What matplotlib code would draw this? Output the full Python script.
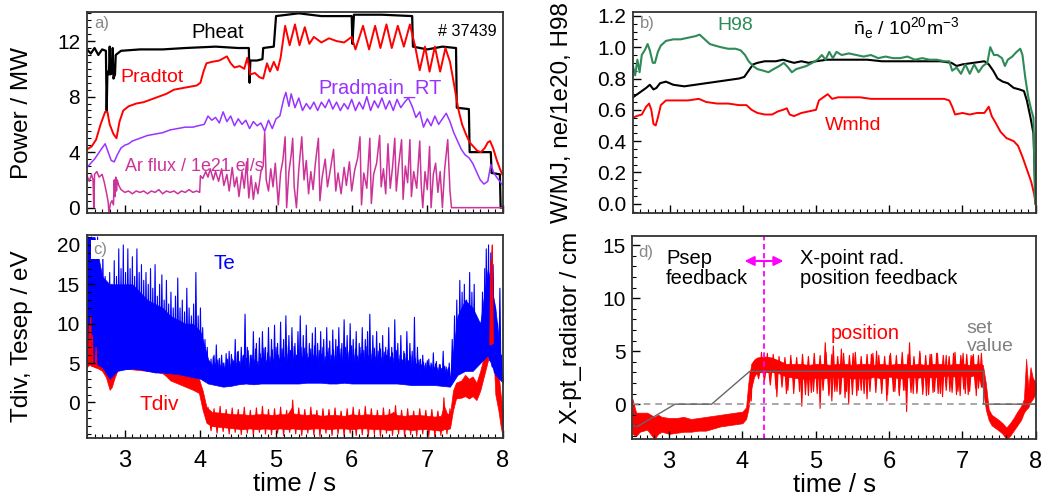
import numpy as np
import matplotlib.pyplot as plt
from matplotlib.ticker import MultipleLocator, FormatStrFormatter
from matplotlib.collections import PolyCollection

plt.rcParams['font.family'] = ['Liberation Sans', 'DejaVu Sans']
plt.rcParams['mathtext.fontset'] = 'custom'
plt.rcParams['mathtext.rm'] = 'Liberation Sans'

# ---------------- a) powers (MW) ----------------
pheat_t = [2.50, 2.55, 2.60, 2.65, 2.70, 2.75, 2.76, 2.77, 2.79, 2.80, 2.81, 2.83, 2.84, 2.85, 2.87,
           2.88, 2.95, 3.20, 3.50, 3.80, 4.20, 4.50, 4.64, 4.65, 4.66, 4.75, 4.82, 4.83, 4.97, 5.00,
           5.30, 5.60, 6.00, 6.01, 6.03, 6.40, 6.80, 6.81, 7.00, 7.20, 7.38, 7.39, 7.55, 7.56, 7.84,
           7.85, 7.96, 7.97, 8.00]
pheat = [11.4, 11.1, 11.5, 11.0, 11.4, 11.3, 7.0, 9.8, 9.6, 11.6, 9.6, 9.7, 11.5, 9.3, 9.6,
         11.0, 11.3, 11.4, 11.4, 11.5, 11.6, 11.5, 11.5, 9.0, 10.6, 10.6, 10.7, 11.5, 11.6, 13.8,
         14.0, 13.8, 13.8, 11.8, 13.9, 13.9, 13.8, 11.6, 11.4, 11.6, 11.5, 7.2, 7.1, 4.0, 4.0,
         2.5, 2.4, 0.0, 0.0]

pradtot_t = [2.50, 2.56, 2.62, 2.68, 2.74, 2.77, 2.80, 2.85, 2.89, 2.93, 2.98, 3.05, 3.15, 3.25, 3.35,
             3.45, 3.55, 3.65, 3.75, 3.85, 3.95, 4.00, 4.04, 4.08, 4.15, 4.25, 4.35, 4.40, 4.45, 4.52,
             4.58, 4.62, 4.66, 4.72, 4.78, 4.83, 4.88, 4.92, 4.97, 5.02, 5.06, 5.12, 5.18, 5.25, 5.31,
             5.38, 5.44, 5.50, 5.60, 5.70, 5.80, 5.90, 6.00, 6.05, 6.15, 6.23, 6.31, 6.38, 6.46, 6.53,
             6.61, 6.69, 6.77, 6.84, 6.90, 6.97, 7.03, 7.10, 7.17, 7.24, 7.30, 7.35, 7.41, 7.46, 7.51,
             7.56, 7.61, 7.66, 7.71, 7.76, 7.80, 7.83, 7.87, 7.92, 7.96, 8.00]
pradtot = [4.2, 4.4, 4.9, 6.0, 6.9, 6.9, 6.0, 5.3, 5.0, 6.2, 7.0, 7.3, 7.5, 7.6, 7.8,
           8.0, 8.2, 8.5, 8.6, 8.7, 8.8, 9.0, 9.8, 10.4, 10.5, 10.6, 10.9, 10.4, 10.1, 10.2,
           10.0, 10.8, 9.6, 9.7, 9.4, 9.3, 10.4, 9.8, 10.5, 9.9, 10.8, 13.1, 11.7, 13.2, 11.7,
           13.0, 11.8, 12.3, 11.9, 12.2, 12.0, 11.9, 12.3, 11.4, 13.1, 11.4, 13.1, 11.5, 13.2, 11.5,
           13.1, 11.6, 13.2, 11.6, 9.9, 11.6, 9.8, 11.6, 9.8, 11.5, 10.5, 9.0, 7.1, 6.0, 5.3,
           4.7, 4.4, 4.1, 4.0, 4.3, 4.7, 4.8, 4.3, 3.4, 2.8, 2.3]

pradmain_t = [2.50, 2.55, 2.60, 2.65, 2.70, 2.74, 2.78, 2.82, 2.86, 2.90, 2.95, 3.00, 3.05, 3.10, 3.20,
              3.30, 3.40, 3.50, 3.60, 3.70, 3.80, 3.90, 3.97, 4.05, 4.10, 4.15, 4.20, 4.25, 4.30, 4.35,
              4.40, 4.45, 4.50, 4.55, 4.60, 4.65, 4.70, 4.75, 4.80, 4.85, 4.90, 4.95, 5.00, 5.05, 5.10,
              5.13, 5.17, 5.20, 5.25, 5.30, 5.35, 5.40, 5.45, 5.50, 5.55, 5.60, 5.65, 5.70, 5.75, 5.80,
              5.85, 5.90, 5.95, 6.00, 6.05, 6.10, 6.15, 6.20, 6.25, 6.30, 6.35, 6.40, 6.45, 6.50, 6.55,
              6.60, 6.65, 6.70, 6.75, 6.80, 6.85, 6.90, 6.95, 7.00, 7.05, 7.10, 7.15, 7.20, 7.25, 7.30,
              7.35, 7.40, 7.45, 7.50, 7.55, 7.60, 7.65, 7.70, 7.75, 7.80, 7.84, 7.88, 7.93, 8.00]
pradmain = [2.9, 3.2, 3.5, 3.9, 4.3, 4.6, 4.0, 3.4, 3.3, 3.8, 4.3, 4.5, 4.6, 4.8, 5.0,
            5.2, 5.3, 5.4, 5.6, 5.7, 5.8, 5.8, 5.9, 6.0, 6.6, 6.3, 6.5, 6.1, 6.9, 6.2,
            6.6, 5.9, 6.4, 6.0, 6.3, 5.7, 6.2, 5.9, 6.1, 5.5, 6.3, 5.7, 6.4, 6.6, 7.8,
            8.3, 7.3, 8.2, 7.2, 7.9, 7.0, 7.5, 7.1, 7.6, 7.0, 7.6, 7.2, 7.8, 7.1, 7.6,
            7.0, 7.5, 7.1, 7.8, 7.0, 7.6, 7.1, 8.0, 7.0, 7.7, 7.2, 7.9, 7.1, 7.7, 7.0,
            7.8, 7.2, 7.6, 7.9, 7.3, 6.5, 6.9, 5.8, 6.4, 5.9, 6.6, 6.0, 6.4, 6.8, 6.2,
            5.4, 4.8, 4.2, 3.8, 3.6, 3.2, 2.6, 2.0, 1.7, 1.9, 3.1, 2.5, 2.1, 1.6]

arflux_t = [2.50, 2.53, 2.56, 2.58, 2.59, 2.60, 2.63, 2.66, 2.70, 2.73, 2.76, 2.78, 2.79, 2.81, 2.83,
            2.85, 2.86, 2.87, 2.88, 2.89, 2.90, 2.92, 2.95, 3.00, 3.05, 3.10, 3.15, 3.20, 3.25, 3.30,
            3.35, 3.40, 3.45, 3.50, 3.55, 3.60, 3.65, 3.70, 3.75, 3.80, 3.85, 3.90, 3.95, 3.99, 4.00,
            4.03, 4.07, 4.10, 4.13, 4.17, 4.20, 4.24, 4.28, 4.31, 4.35, 4.38, 4.42, 4.45, 4.48, 4.51,
            4.55, 4.58, 4.61, 4.64, 4.67, 4.70, 4.73, 4.76, 4.80, 4.83, 4.85, 4.87, 4.90, 4.93, 4.96,
            4.99, 5.03, 5.06, 5.09, 5.12, 5.14, 5.17, 5.20, 5.22, 5.24, 5.27, 5.30, 5.34, 5.37, 5.40,
            5.43, 5.46, 5.49, 5.52, 5.56, 5.58, 5.61, 5.65, 5.68, 5.72, 5.76, 5.79, 5.82, 5.86, 5.90,
            5.93, 5.97, 6.00, 6.04, 6.08, 6.11, 6.13, 6.16, 6.20, 6.24, 6.26, 6.29, 6.33, 6.37, 6.39,
            6.42, 6.45, 6.48, 6.51, 6.54, 6.57, 6.59, 6.62, 6.66, 6.68, 6.71, 6.74, 6.77, 6.79, 6.82,
            6.86, 6.90, 6.92, 6.94, 6.97, 7.00, 7.03, 7.05, 7.08, 7.11, 7.14, 7.17, 7.20, 7.23, 7.27,
            7.30, 7.32, 8.00]
arflux = [2.3, 1.9, 2.4, 2.0, 0.0, 2.4, 2.6, 2.2, 2.4, 1.8, 1.0, 0.4, -0.4, 0.3, 0.5,
          0.2, 2.0, 0.8, 2.2, 1.2, 2.0, 1.6, 1.3, 1.1, 1.2, 1.0, 1.2, 1.1, 1.2, 1.0,
          1.2, 1.1, 1.3, 1.0, 1.2, 1.1, 1.2, 1.0, 1.2, 1.1, 1.3, 1.1, 1.2, 1.1, 2.3,
          2.1, 2.6, 2.2, 2.8, 2.0, 2.6, 1.9, 2.8, 1.6, 2.4, 1.2, 2.9, 1.5, 2.2, 0.8,
          2.6, 1.4, 3.3, 0.7, 2.3, 0.6, 1.8, 1.0, 2.6, 3.0, 5.4, 2.0, 1.2, 2.8, 1.5,
          3.2, 0.2, 2.5, 3.4, 5.1, 0.0, 2.6, 3.8, 5.0, 1.5, 0.0, 2.7, 5.1, 2.0, 3.4,
          1.0, 2.6, 1.3, 3.2, 5.0, 0.5, 2.2, 3.5, 1.5, 2.8, 4.2, 1.2, 2.5, 1.0, 2.9,
          1.6, 3.3, 1.2, 2.7, 3.6, 5.1, 0.2, 2.5, 1.4, 5.0, 0.3, 2.4, 3.2, 5.2, 1.5,
          2.8, 1.0, 4.6, 1.4, 2.9, 5.0, 1.2, 3.0, 4.9, 0.6, 3.0, 1.8, 4.9, 0.8, 2.6,
          1.4, 4.8, 1.6, 0.0, 2.6, 1.3, 4.4, 0.0, 2.4, 3.2, 1.1, 2.6, 0.0, 2.8, 4.9,
          1.2, 0.0, 0.0]

# ---------------- b) Wmhd, density, H98 ----------------
h98_t = [2.50, 2.53, 2.56, 2.59, 2.62, 2.66, 2.70, 2.73, 2.77, 2.80, 2.84, 2.88, 2.95, 3.05, 3.15,
         3.25, 3.35, 3.41, 3.48, 3.55, 3.62, 3.70, 3.80, 3.90, 3.97, 4.03, 4.08, 4.14, 4.20, 4.28,
         4.35, 4.42, 4.50, 4.56, 4.62, 4.67, 4.73, 4.80, 4.87, 4.95, 5.02, 5.08, 5.13, 5.18, 5.23,
         5.28, 5.35, 5.45, 5.55, 5.65, 5.75, 5.85, 5.95, 6.05, 6.15, 6.25, 6.35, 6.45, 6.55, 6.65,
         6.75, 6.82, 6.86, 6.92, 6.98, 7.04, 7.10, 7.16, 7.22, 7.28, 7.34, 7.38, 7.43, 7.48, 7.54,
         7.58, 7.62, 7.68, 7.74, 7.79, 7.82, 7.86, 7.90, 7.94, 7.97, 7.99, 8.00]
h98 = [0.88, 0.82, 0.92, 0.84, 0.95, 0.98, 1.02, 0.98, 0.90, 0.90, 0.97, 1.01, 1.04, 1.05, 1.05,
       1.06, 1.07, 1.08, 1.05, 1.02, 1.01, 1.00, 0.99, 0.99, 0.98, 0.95, 0.91, 0.88, 0.86, 0.85,
       0.84, 0.86, 0.88, 0.90, 0.87, 0.84, 0.86, 0.87, 0.88, 0.90, 0.92, 0.95, 0.92, 0.97, 0.93,
       0.97, 0.95, 0.96, 0.95, 0.94, 0.95, 0.93, 0.94, 0.93, 0.93, 0.94, 0.92, 0.93, 0.92, 0.92,
       0.91, 0.91, 0.85, 0.87, 0.83, 0.89, 0.83, 0.89, 0.84, 0.88, 0.90, 1.00, 0.95, 0.95, 0.93,
       0.88, 0.92, 0.94, 0.97, 0.99, 0.95, 0.80, 0.68, 0.60, 0.55, 0.05, 0.0]

ne_t = [2.50, 2.56, 2.62, 2.68, 2.73, 2.78, 2.82, 2.87, 2.95, 3.05, 3.20, 3.35, 3.50, 3.65, 3.80,
        3.95, 4.02, 4.08, 4.14, 4.20, 4.30, 4.45, 4.55, 4.62, 4.70, 4.80, 4.90, 5.00, 5.15, 5.30,
        5.50, 5.70, 5.90, 6.10, 6.30, 6.50, 6.70, 6.85, 6.92, 7.00, 7.15, 7.30, 7.36, 7.42, 7.48,
        7.55, 7.62, 7.70, 7.78, 7.84, 7.88, 7.93, 7.97, 8.00]
ne = [0.68, 0.70, 0.72, 0.74, 0.76, 0.73, 0.74, 0.77, 0.78, 0.76, 0.75, 0.76, 0.77, 0.78, 0.79,
      0.80, 0.81, 0.85, 0.89, 0.90, 0.91, 0.91, 0.92, 0.91, 0.90, 0.91, 0.90, 0.91, 0.92, 0.92,
      0.92, 0.92, 0.91, 0.91, 0.91, 0.91, 0.91, 0.90, 0.88, 0.89, 0.90, 0.91, 0.89, 0.85, 0.80,
      0.78, 0.77, 0.74, 0.73, 0.72, 0.66, 0.55, 0.45, 0.0]

wmhd_t = [2.50, 2.55, 2.62, 2.68, 2.72, 2.75, 2.78, 2.81, 2.84, 2.88, 2.95, 3.10, 3.25, 3.40, 3.50,
          3.65, 3.80, 3.95, 4.05, 4.12, 4.20, 4.30, 4.40, 4.48, 4.55, 4.60, 4.64, 4.70, 4.80, 4.90,
          5.00, 5.04, 5.10, 5.16, 5.22, 5.30, 5.45, 5.60, 5.75, 5.90, 6.05, 6.20, 6.40, 6.60, 6.75,
          6.82, 6.86, 6.90, 7.00, 7.10, 7.20, 7.30, 7.36, 7.40, 7.45, 7.52, 7.60, 7.70, 7.76, 7.82,
          7.88, 7.94, 7.98, 8.00]
wmhd = [0.55, 0.56, 0.57, 0.62, 0.64, 0.60, 0.51, 0.50, 0.55, 0.63, 0.66, 0.66, 0.66, 0.67, 0.65,
        0.64, 0.64, 0.63, 0.63, 0.60, 0.58, 0.57, 0.57, 0.59, 0.60, 0.61, 0.57, 0.56, 0.58, 0.59,
        0.60, 0.66, 0.68, 0.70, 0.67, 0.68, 0.68, 0.68, 0.67, 0.67, 0.67, 0.67, 0.67, 0.67, 0.67,
        0.66, 0.62, 0.57, 0.58, 0.57, 0.58, 0.58, 0.62, 0.56, 0.52, 0.46, 0.42, 0.40, 0.37, 0.30,
        0.22, 0.14, 0.06, 0.0]

# ---------------- c) temperatures (eV) ----------------
te_t = [2.5, 2.6, 2.7, 2.8, 2.9, 3.0, 3.1, 3.2, 3.3, 3.4, 3.5, 3.6, 3.7, 3.8, 3.9, 4.0,
        4.1, 4.2, 4.3, 4.4, 4.5, 4.6, 4.7, 4.8, 4.9, 5.0, 5.1, 5.2, 5.3, 5.4, 5.5, 5.6,
        5.7, 5.8, 5.9, 6.0, 6.1, 6.2, 6.3, 6.4, 6.5, 6.6, 6.7, 6.8, 6.9, 7.0, 7.1, 7.2,
        7.3, 7.4, 7.5, 7.6, 7.7, 7.8, 7.9, 8.0]
te_lo = [5.0, 5.0, 4.5, 3.0, 4.0, 4.2, 4.3, 4.2, 4.0, 3.8, 3.8, 3.7, 3.6, 3.4, 3.2, 3.0,
         2.4, 2.2, 2.0, 2.1, 2.3, 2.4, 2.3, 2.4, 2.4, 2.4, 2.4, 2.4, 2.4, 2.5, 2.5, 2.5,
         2.4, 2.4, 2.5, 2.4, 2.4, 2.4, 2.4, 2.4, 2.4, 2.4, 2.3, 2.2, 2.2, 2.2, 2.2, 2.1,
         2.0, 3.5, 4.0, 4.0, 5.0, 6.0, 3.5, 2.5]
te_top = [21, 21, 16, 15, 15, 15, 15, 14, 13, 12.5, 12, 11, 10.5, 10, 10, 9,
          5.5, 4.0, 3.7, 3.8, 3.9, 4.0, 3.9, 4.1, 4.2, 4.2, 4.3, 4.2, 4.4, 4.2, 4.3, 4.4,
          4.2, 4.3, 4.4, 4.2, 4.3, 4.1, 4.0, 4.0, 3.9, 3.8, 3.7, 3.6, 3.5, 3.6, 3.4, 3.3,
          3.2, 11, 13, 12, 10, 17, 12, 3.0]
te_spike_t = [2.52, 2.56, 2.60, 2.64, 2.68, 2.71, 2.74, 2.77, 2.80, 2.83, 2.86, 2.89, 2.92, 2.95, 2.98,
              3.01, 3.04, 3.07, 3.10, 3.13, 3.16, 3.19, 3.22, 3.25, 3.28, 3.31, 3.34, 3.37, 3.40, 3.43,
              3.46, 3.49, 3.52, 3.55, 3.58, 3.61, 3.64, 3.67, 3.70, 3.73, 3.76, 3.79, 3.82, 3.85, 3.88,
              3.91, 3.94, 3.97, 4.00, 4.03, 4.06, 4.09,
              4.14, 4.18, 4.21, 4.25, 4.30, 4.34, 4.38, 4.42, 4.46, 4.50, 4.54, 4.57, 4.59, 4.62, 4.66,
              4.70, 4.74, 4.78, 4.82, 4.86, 4.90, 4.94, 4.98, 5.02, 5.06, 5.10, 5.13, 5.17, 5.21, 5.25,
              5.29, 5.32, 5.36, 5.40, 5.44, 5.48, 5.52, 5.55, 5.59, 5.63, 5.67, 5.71, 5.75, 5.79, 5.83,
              5.87, 5.90, 5.94, 5.98, 6.02, 6.06, 6.10, 6.14, 6.18, 6.21, 6.24, 6.28, 6.33, 6.37, 6.41,
              6.45, 6.49, 6.53, 6.57, 6.61, 6.65, 6.69, 6.73, 6.77, 6.80, 6.83, 6.87, 6.91, 6.94, 6.98,
              7.02, 7.06, 7.08, 7.12, 7.16, 7.21, 7.25, 7.29,
              7.33, 7.36, 7.39, 7.43, 7.46, 7.49, 7.52, 7.56, 7.59, 7.62, 7.65, 7.68, 7.70, 7.73, 7.76,
              7.78, 7.81, 7.84, 7.87, 7.90, 7.93, 7.96, 7.98]
te_spike = [21, 21, 20.5, 21, 17, 19, 16, 14, 16.5, 15, 18, 16, 19.5, 17, 20,
            16.5, 19.5, 17, 18.5, 16, 19.5, 16.5, 17.5, 15.5, 16.5, 15, 17, 14.5, 17.5, 13.5,
            15, 16.2, 13, 15.5, 12.5, 14, 12, 13.5, 15.8, 12, 13, 11.5, 14.5, 12, 11,
            12.5, 16.5, 11, 12, 9.5, 8, 7,
            5.5, 6.0, 7.3, 5.6, 5.0, 6.2, 6.5, 5.5, 8.0, 6.5, 7.0, 6.0, 11.2, 7.0, 6.0,
            9.0, 7.5, 8.2, 9.0, 7.0, 9.5, 8.0, 9.8, 7.5, 10.2, 8.0, 11.0, 8.5, 9.5, 7.5,
            9.0, 11.0, 8.5, 9.8, 7.5, 8.8, 9.5, 7.5, 9.0, 8.0, 9.5, 7.8, 9.2, 8.0, 9.5,
            7.5, 10.5, 8.5, 10.0, 8.0, 9.0, 7.5, 9.5, 8.0, 9.0, 11.2, 8.5, 9.0, 7.5, 8.5,
            7.0, 9.5, 7.0, 10.5, 7.5, 8.5, 6.5, 9.0, 7.5, 6.5, 10.8, 7.0, 5.5, 6.0, 5.0,
            5.5, 4.8, 6.3, 5.2, 4.8, 6.5, 4.5, 5.0,
            8.0, 11.0, 13.0, 15.5, 14.0, 15.0, 13.0, 16.5, 14.0, 15.0, 11.0, 9.0, 10.0, 14.0, 17.0,
            19.5, 20.0, 19.0, 17.5, 12.0, 10.0, 14.5, 6.0]
# short spikes that make the ragged top of the Te band
te_fuzz_t = [4.12, 4.15, 4.17, 4.20, 4.23, 4.26, 4.28, 4.31, 4.33, 4.36,
             4.39, 4.41, 4.44, 4.47, 4.49, 4.52, 4.55, 4.58, 4.61, 4.63,
             4.66, 4.68, 4.71, 4.73, 4.76, 4.79, 4.81, 4.84, 4.87, 4.89,
             4.92, 4.95, 4.97, 5.00, 5.03, 5.05, 5.08, 5.11, 5.14, 5.16,
             5.19, 5.22, 5.24, 5.27, 5.30, 5.33, 5.35, 5.38, 5.41, 5.43,
             5.46, 5.49, 5.51, 5.54, 5.57, 5.60, 5.62, 5.65, 5.68, 5.70,
             5.73, 5.76, 5.78, 5.81, 5.84, 5.86, 5.89, 5.92, 5.95, 5.97,
             6.00, 6.03, 6.05, 6.08, 6.11, 6.13, 6.16, 6.19, 6.22, 6.25,
             6.27, 6.30, 6.32, 6.35, 6.38, 6.40, 6.43, 6.46, 6.48, 6.51,
             6.54, 6.56, 6.59, 6.62, 6.64, 6.67, 6.70, 6.72, 6.75, 6.78,
             6.81, 6.84, 6.86, 6.89, 6.92, 6.95, 6.97, 7.00, 7.03, 7.05,
             7.09, 7.11, 7.14, 7.17, 7.19, 7.23, 7.26, 7.28]
te_fuzz = [5.2, 4.6, 5.8, 4.9, 5.4, 4.7, 6.0, 5.0, 4.6, 5.5,
           4.8, 6.1, 5.3, 5.0, 6.4, 5.2, 5.9, 4.9, 5.6, 6.6,
           5.1, 6.0, 5.4, 6.8, 5.2, 6.2, 5.6, 6.9, 5.3, 6.3,
           5.8, 6.7, 5.5, 7.0, 6.0, 5.6, 6.8, 5.7, 7.2, 6.1,
           6.6, 5.7, 7.1, 6.0, 6.5, 7.0, 5.8, 6.9, 6.2, 5.7,
           6.8, 6.0, 7.2, 5.9, 6.6, 6.1, 7.0, 5.8, 6.4, 6.9,
           6.0, 6.7, 5.9, 7.1, 6.2, 6.8, 5.9, 7.0, 6.3, 6.6,
           7.2, 6.0, 6.8, 5.9, 7.0, 6.2, 6.6, 7.1, 5.9, 6.7,
           6.1, 6.9, 5.8, 6.5, 6.8, 5.7, 6.4, 6.0, 6.7, 5.8,
           6.3, 5.6, 6.6, 5.5, 6.0, 5.4, 6.2, 5.6, 5.3, 5.9,
           5.2, 5.6, 4.9, 5.4, 4.8, 5.1, 4.7, 5.3, 4.6, 5.0,
           4.5, 4.9, 4.4, 4.8, 4.3, 4.6, 4.2, 4.4]

tdiv_t = [2.50, 2.53, 2.55, 2.57, 2.60, 2.65, 2.70, 2.75, 2.80, 2.83, 2.86, 2.90, 2.92, 2.95, 3.00,
          3.10, 3.20, 3.30, 3.40, 3.50, 3.55, 3.60, 3.70, 3.80, 3.90, 3.98, 4.03, 4.08, 4.15, 4.25,
          4.35, 4.45, 4.55, 4.65, 4.75, 4.85, 4.95, 5.05, 5.15, 5.21, 5.23, 5.30, 5.40, 5.50, 5.60,
          5.70, 5.80, 5.90, 6.00, 6.10, 6.20, 6.30, 6.40, 6.50, 6.55, 6.60, 6.70, 6.80, 6.90, 7.00,
          7.10, 7.18, 7.22, 7.26, 7.30, 7.34, 7.38, 7.45, 7.50, 7.55, 7.60, 7.65, 7.70, 7.74, 7.78,
          7.82, 7.85, 7.87, 7.90, 7.94, 7.97, 8.00]
tdiv_lo = [4.5, 4.8, 4.8, 4.6, 4.5, 4.3, 4.0, 3.2, 1.6, 2.0, 3.0, 4.0, 4.2, 4.2, 4.3,
           4.2, 4.1, 4.0, 3.9, 3.7, 3.3, 2.8, 2.4, 2.0, 1.6, 1.2, -1.0, -2.6, -3.0, -3.1,
           -3.2, -3.3, -3.4, -3.3, -3.4, -3.3, -3.4, -3.3, -3.4, -3.3, -3.3, -3.4, -3.4, -3.3, -3.3,
           -3.4, -3.3, -3.3, -3.4, -3.3, -3.3, -3.4, -3.4, -3.5, -3.4, -3.4, -3.4, -3.5, -3.4, -3.4,
           -3.5, -3.6, -3.4, -3.4, -3.3, -1.0, 0.5, 0.6, 0.8, 0.5, 0.8, 0.3, 1.5, 3.0, 4.5,
           6.0, 8.0, 7.0, 1.0, -1.0, -3.0, -4.5]
tdiv_hi = [9.0, 10.0, 11.0, 8.5, 7.0, 5.8, 5.3, 4.8, 4.0, 3.8, 4.8, 5.5, 6.5, 5.2, 5.0,
           4.9, 4.8, 4.7, 4.6, 4.4, 4.0, 3.8, 3.6, 3.4, 3.2, 3.0, 1.5, -0.6, -1.2, -1.3,
           -1.4, -1.5, -1.5, -1.6, -1.5, -1.5, -1.6, -1.5, -1.5, -0.6, -1.4, -1.5, -1.6, -1.5, -1.7,
           -1.6, -1.6, -1.7, -1.5, -1.6, -1.5, -1.6, -1.6, -1.5, -1.2, -1.6, -1.7, -1.6, -1.6, -1.7,
           -1.8, -1.7, -0.4, -1.4, -1.5, 1.5, 2.5, 2.8, 3.5, 3.0, 3.3, 2.5, 4.0, 5.5, 6.5,
           10.0, 20.0, 14.0, 5.0, 4.0, 1.0, -1.0]
# short up / down spikes giving the ragged edges of the detached Tdiv band
tdiv_fuzz_t = [4.10, 4.14, 4.18, 4.22, 4.26, 4.30, 4.34, 4.38, 4.42, 4.46,
               4.50, 4.54, 4.58, 4.62, 4.66, 4.70, 4.74, 4.78, 4.82, 4.86,
               4.90, 4.94, 4.98, 5.02, 5.06, 5.10, 5.14, 5.18, 5.22, 5.26,
               5.30, 5.34, 5.38, 5.42, 5.46, 5.50, 5.54, 5.58, 5.62, 5.66,
               5.70, 5.74, 5.78, 5.82, 5.86, 5.90, 5.94, 5.98, 6.02, 6.06,
               6.10, 6.14, 6.18, 6.22, 6.26, 6.30, 6.34, 6.38, 6.42, 6.46,
               6.50, 6.54, 6.58, 6.62, 6.66, 6.70, 6.74, 6.78, 6.82, 6.86,
               6.90, 6.94, 6.98, 7.02, 7.06, 7.10, 7.14, 7.18, 7.22, 7.26,
               7.30]
tdiv_fuzz = [-0.6, -3.6, -0.8, -3.9, -0.5, -3.7, -0.9, -4.0, -0.7, -3.8,
             -0.9, -4.1, -0.6, -3.9, -1.0, -4.2, -0.7, -3.8, -0.5, -4.0,
             -0.9, -4.1, -0.8, -3.9, -0.6, -4.2, -1.0, -3.8, 0.3, -4.0,
             -0.7, -4.2, -0.9, -3.9, -0.6, -4.1, -1.0, -4.3, -0.8, -3.9,
             -0.9, -4.2, -0.7, -4.0, -1.1, -4.3, -0.8, -3.9, -0.6, -4.2,
             -0.9, -4.1, -0.5, -4.3, -0.8, -4.0, -1.0, -4.3, -0.7, -3.9,
             -0.9, -4.2, -0.4, -4.0, -1.0, -4.3, -0.8, -4.1, -1.1, -4.3,
             -0.8, -4.0, -1.0, -4.3, -0.9, -4.4, -1.1, -4.2, 0.6, -4.0,
             -0.8]
# Tdiv excursions that stand out above the Te trace
tdiv_peak_t = [2.53, 2.55, 2.57, 2.62, 7.84, 7.86]
tdiv_peak = [10.0, 11.0, 8.5, 7.0, 18.0, 20.0]

# ---------------- d) X-point radiator position (cm) ----------------
setv_t = [2.50, 2.57, 3.08, 3.58, 4.10, 7.29, 7.29, 8.00]
setv = [-2.0, -2.1, 0.0, 0.0, 3.1, 3.1, 0.0, 0.0]

pos_t = [2.50, 2.55, 2.60, 2.70, 2.80, 2.85, 2.90, 3.00, 3.10, 3.20, 3.30, 3.40, 3.50, 3.60, 3.70,
         3.80, 3.90, 4.00, 4.05, 4.08, 4.12, 4.16, 4.20, 4.30, 4.40, 4.50, 4.60, 4.70, 4.80, 4.90,
         5.00, 5.10, 5.20, 5.30, 5.40, 5.50, 5.60, 5.70, 5.80, 5.90, 6.00, 6.10, 6.20, 6.30, 6.40,
         6.50, 6.60, 6.70, 6.80, 6.90, 7.00, 7.10, 7.20, 7.28, 7.32, 7.36, 7.40, 7.50, 7.55, 7.60,
         7.65, 7.70, 7.75, 7.80, 7.84, 7.87, 7.90, 7.93, 7.96, 8.00]
pos_lo = [-2.8, -3.0, -2.6, -2.4, -3.3, -2.8, -2.6, -2.8, -2.7, -2.6, -2.6, -2.5, -2.5, -2.3, -2.1,
          -2.0, -1.9, -1.8, -1.4, -0.5, 1.5, 2.6, 3.0, 3.2, 3.1, 2.9, 2.6, 2.5, 2.4, 2.4,
          2.5, 2.4, 2.6, 2.5, 2.6, 2.4, 2.5, 2.4, 2.6, 2.4, 2.6, 2.5, 2.4, 2.6, 2.5,
          2.6, 2.5, 2.6, 2.7, 2.6, 2.7, 2.6, 2.8, 1.5, -0.5, -1.5, -2.0, -2.5, -2.8, -3.3,
          -3.0, -2.5, -2.0, -1.5, -0.8, -0.5, -0.3, 0.2, 0.5, 1.0]
pos_hi = [0.5, -0.8, -0.8, -0.8, -1.2, -1.0, -1.2, -1.3, -1.3, -1.2, -1.4, -1.3, -1.2, -1.1, -1.0,
          -0.9, -0.8, -0.7, -0.3, 2.0, 3.8, 4.2, 4.4, 4.5, 4.4, 4.1, 3.8, 3.8, 3.8, 3.7,
          3.8, 3.8, 3.7, 3.8, 3.8, 3.7, 3.8, 3.8, 3.7, 3.8, 3.7, 3.8, 3.8, 3.7, 3.8,
          3.7, 3.8, 3.8, 3.7, 3.8, 3.8, 3.7, 3.8, 3.7, 2.0, -0.5, -1.0, -1.5, -1.8, -2.2,
          -1.8, -1.3, -0.7, -0.2, 0.5, 4.3, 1.5, 3.5, 2.5, 2.0]
pos_spike_t = [4.12, 4.47, 4.60, 4.81, 4.90, 4.97, 5.06, 5.13, 5.18, 5.22, 5.24, 5.29, 5.33, 5.35, 5.40,
               5.45, 5.51, 5.56, 5.62, 5.70, 5.76, 5.83, 5.90, 5.97, 6.01, 6.08, 6.14, 6.20, 6.24, 6.28,
               6.33, 6.38, 6.42, 6.46, 6.51, 6.56, 6.60, 6.65, 6.67, 6.73, 6.78, 6.83, 6.88, 6.92, 6.97,
               7.01, 7.04, 7.08, 7.12, 7.15, 7.19, 7.22, 7.26]
pos_spike = [0.3, 0.7, 1.0, -0.2, 0.8, 1.2, -0.4, 5.8, 1.0, 0.3, 5.5, 1.2, 0.9, 5.2, 0.6,
             0.0, 4.8, 0.8, 1.3, 0.5, 4.7, 5.0, 1.0, 0.3, 4.6, 1.2, 0.8, 1.3, -0.7, 5.8,
             1.0, 1.2, 5.0, 0.9, 0.8, 4.7, 1.1, 4.8, 1.0, 0.7, 4.6, 1.2, 4.8, 0.9, 0.8,
             4.8, 1.0, 0.9, 4.6, 4.7, 0.8, 1.5, 4.8]
pos_fuzz_t = [4.22, 4.26, 4.30, 4.34, 4.38, 4.42, 4.46, 4.50, 4.54, 4.58,
              4.62, 4.66, 4.70, 4.74, 4.78, 4.82, 4.86, 4.90, 4.94, 4.98,
              5.02, 5.06, 5.10, 5.14, 5.18, 5.22, 5.26, 5.30, 5.34, 5.38,
              5.42, 5.46, 5.50, 5.54, 5.58, 5.62, 5.66, 5.70, 5.74, 5.78,
              5.82, 5.86, 5.90, 5.94, 5.98, 6.02, 6.06, 6.10, 6.14, 6.18,
              6.22, 6.26, 6.30, 6.34, 6.38, 6.42, 6.46, 6.50, 6.54, 6.58,
              6.62, 6.66, 6.70, 6.74, 6.78, 6.82, 6.86, 6.90, 6.94, 6.98,
              7.02, 7.06, 7.10, 7.14, 7.18, 7.22, 7.26]
pos_fuzz = [2.4, 4.9, 2.2, 4.8, 1.8, 4.7, 1.4, 4.5, 1.6, 4.4,
            1.3, 4.6, 1.0, 4.4, 1.2, 4.7, 0.9, 4.5, 1.1, 4.8,
            1.0, 4.6, 1.3, 4.9, 0.8, 4.7, 1.2, 4.5, 1.0, 4.8,
            1.2, 4.6, 0.9, 4.9, 1.3, 4.5, 1.0, 4.7, 1.2, 4.8,
            1.1, 4.6, 1.3, 4.5, 0.9, 4.8, 1.2, 4.6, 1.0, 4.9,
            1.3, 4.7, 1.1, 4.5, 1.0, 4.8, 1.2, 4.6, 0.9, 4.7,
            1.2, 4.8, 1.0, 4.6, 1.3, 4.5, 1.1, 4.9, 1.2, 4.6,
            1.4, 4.7, 1.2, 4.5, 1.5, 4.6, 1.6]

switch_time = 4.3

RED = '#ff0000'
PURPLE = '#9933ff'
MAGENTA = '#cc3399'
GREEN = '#2e8b57'
BLUE = '#0000ff'
GREY = '#888888'


def add_spikes(ax, t, v, base, half, color):
    # each sample drawn as a narrow triangle rising (or falling) from the band;
    # base may be a scalar or one value per spike
    base = np.broadcast_to(np.asarray(base, dtype=float), (len(t),))
    polys = [[(ti - half, bi), (ti, vi), (ti + half, bi)] for ti, vi, bi in zip(t, v, base)]
    ax.add_collection(PolyCollection(polys, facecolor=color, edgecolor=color, linewidth=0.8))


def style_axes(ax, ylim, major, minor, ylabel, label_x, show_x):
    ax.set_xlim(2.5, 8.0)
    ax.set_ylim(*ylim)
    ax.xaxis.set_major_locator(MultipleLocator(1))
    ax.xaxis.set_minor_locator(MultipleLocator(0.1))
    ax.yaxis.set_major_locator(MultipleLocator(major))
    ax.yaxis.set_minor_locator(MultipleLocator(minor))
    ax.tick_params(which='both', direction='in', top=False, right=False)
    ax.tick_params(which='major', length=6, width=1.0)
    ax.tick_params(which='minor', length=3, width=0.8)
    ax.tick_params(axis='y', labelsize=15, pad=5)
    ax.tick_params(axis='x', labelsize=17, pad=9, labelbottom=show_x)
    for sp in ax.spines.values():
        sp.set_color('#333333')
        sp.set_linewidth(1.3)
    ax.set_ylabel(ylabel, fontsize=17.5)
    ax.yaxis.set_label_coords(label_x, 0.5)
    if show_x:
        ax.set_xlabel('time / s', fontsize=18.5, labelpad=0)


fig = plt.figure(figsize=(10.61, 4.97), dpi=100)
ax_a = fig.add_axes([0.082, 0.571, 0.392, 0.405])
ax_b = fig.add_axes([0.5966, 0.571, 0.3795, 0.405])
ax_c = fig.add_axes([0.082, 0.119, 0.392, 0.408])
ax_d = fig.add_axes([0.5961, 0.117, 0.380, 0.408])

# a)
ax_a.plot(pheat_t, pheat, color='black', lw=1.6)
ax_a.plot(pradtot_t, pradtot, color=RED, lw=1.4)
ax_a.plot(pradmain_t, pradmain, color=PURPLE, lw=1.1)
ax_a.plot(arflux_t, arflux, color=MAGENTA, lw=1.1)
style_axes(ax_a, (-0.4, 14.1), 4, 0.5, 'Power / MW', -0.13, False)
ax_a.text(2.6, 13.3, 'a)', color=GREY, fontsize=12, va='center')
ax_a.text(4.23, 12.6, 'Pheat', color='black', fontsize=14.5, ha='center', va='center')
ax_a.text(7.92, 12.7, '# 37439', color='black', fontsize=11.6, ha='right', va='center')
ax_a.text(2.94, 9.4, 'Pradtot', color=RED, fontsize=14, va='center')
ax_a.text(5.56, 8.6, 'Pradmain_RT', color=PURPLE, fontsize=14.4, va='center')
ax_a.text(3.0, 2.95, 'Ar flux / 1e21 el/s', color=MAGENTA, fontsize=12.9, va='center')

# b)
ax_b.plot(ne_t, ne, color='black', lw=1.5)
ax_b.plot(wmhd_t, wmhd, color=RED, lw=1.4)
ax_b.plot(h98_t, h98, color=GREEN, lw=1.5)
style_axes(ax_b, (-0.06, 1.225), 0.2, 0.05, 'W/MJ, ne/1e20, H98', -0.149, False)
ax_b.yaxis.set_major_formatter(FormatStrFormatter('%.1f'))
ax_b.text(2.6, 1.15, 'b)', color=GREY, fontsize=12, va='center')
ax_b.text(3.65, 1.14, 'H98', color=GREEN, fontsize=14, va='center')
ax_b.text(5.5, 1.12, r'$\bar{\rm n}_{\rm e}$ / 10$^{20}$m$^{-3}$', color='black', fontsize=14,
          va='center')
ax_b.text(5.12, 0.5, 'Wmhd', color=RED, fontsize=14, va='center')

# c) Tdiv underneath, Te drawn over it
ax_c.fill_between(tdiv_t, tdiv_lo, tdiv_hi, color=RED, lw=0.5)
add_spikes(ax_c, tdiv_fuzz_t, tdiv_fuzz, -2.4, 0.016, RED)
ax_c.fill_between(te_t, te_lo, te_top, color=BLUE, lw=0.5)
te_base = np.interp(te_spike_t, te_t, te_lo) + 0.3
add_spikes(ax_c, te_spike_t, te_spike, te_base, 0.014, BLUE)
add_spikes(ax_c, te_fuzz_t, te_fuzz, 3.0, 0.018, BLUE)
add_spikes(ax_c, tdiv_peak_t, tdiv_peak, np.interp(tdiv_peak_t, tdiv_t, tdiv_lo), 0.012, RED)
style_axes(ax_c, (-4.5, 21.25), 5, 1, 'Tdiv, Tesep / eV', -0.13, True)
ax_c.text(2.58, 19.4, 'c)', color=GREY, fontsize=12, va='center',
          bbox=dict(facecolor='white', edgecolor='none', pad=1.5))
ax_c.text(4.17, 17.7, 'Te', color=BLUE, fontsize=14.8, va='center')
ax_c.text(3.2, -0.3, 'Tdiv', color=RED, fontsize=15, va='center')

# d)
ax_d.axhline(0, color='#999999', lw=1.2, ls=(0, (4, 3)))
ax_d.plot(setv_t, setv, color='#666666', lw=1.0)
ax_d.fill_between(pos_t, pos_lo, pos_hi, color=RED, lw=0.5)
add_spikes(ax_d, pos_fuzz_t, pos_fuzz, 3.0, 0.018, RED)
add_spikes(ax_d, pos_spike_t, pos_spike, 3.0, 0.016, RED)
ax_d.axvline(switch_time, color='#ff00ff', lw=1.3, ls=(0, (3, 2)))
ax_d.annotate('', xy=(4.03, 13.5), xytext=(4.56, 13.5),
              arrowprops=dict(arrowstyle='<|-|>', color='#ff00ff', lw=1.5, mutation_scale=14,
                              shrinkA=0, shrinkB=0))
style_axes(ax_d, (-3.27, 15.85), 5, 1, 'z X-pt_radiator / cm', -0.125, True)
ax_d.text(2.58, 14.3, 'd)', color=GREY, fontsize=12, va='center')
ax_d.text(2.96, 12.8, 'Psep\nfeedback', color='black', fontsize=14.5, va='center', linespacing=1.1)
ax_d.text(4.78, 12.8, 'X-point rad.\nposition feedback', color='black', fontsize=14.5, va='center',
          linespacing=1.1)
ax_d.text(5.68, 6.7, 'position', color=RED, fontsize=14.3, ha='center', va='center')
ax_d.text(7.06, 6.3, 'set\nvalue', color='#808080', fontsize=14, va='center', linespacing=1.1)

fig.savefig('out.png', dpi=100)
